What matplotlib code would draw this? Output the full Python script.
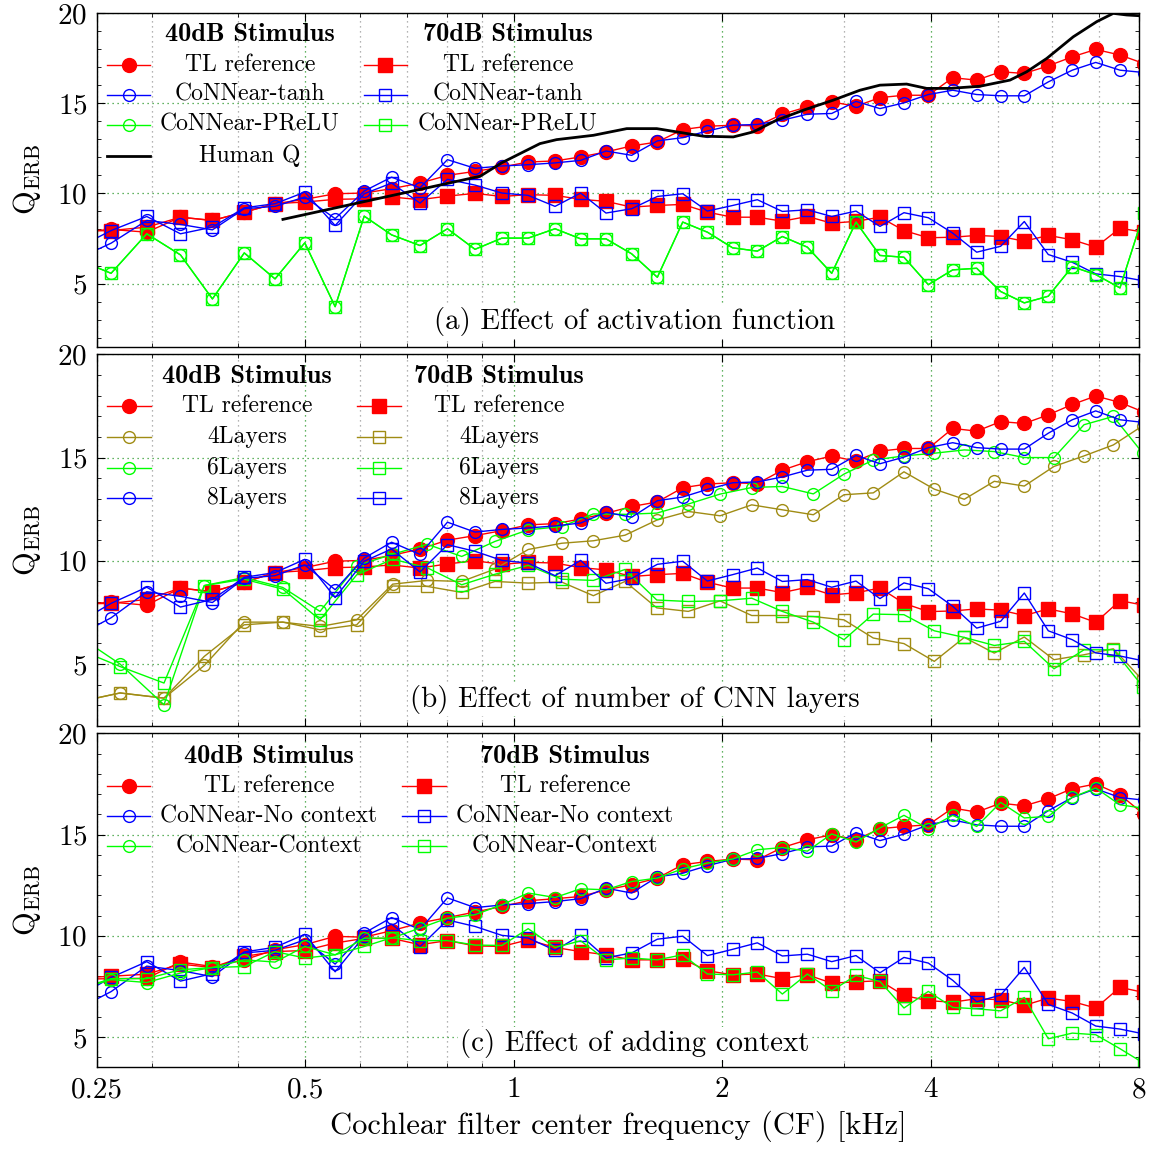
import matplotlib
matplotlib.use("Agg")
import matplotlib.pyplot as plt
from matplotlib.ticker import FixedLocator, FixedFormatter, NullFormatter, MultipleLocator

plt.rcParams['font.family'] = 'serif'
plt.rcParams['font.serif'] = ['cmr10']
plt.rcParams['mathtext.fontset'] = 'cm'
plt.rcParams['axes.formatter.use_mathtext'] = True

# ---------------- data ----------------
# CF grid (kHz) of the TL reference / CoNNear runs (first and last sit outside the axis)
cf = [0.232, 0.262, 0.295, 0.330, 0.367, 0.408, 0.452, 0.499, 0.552, 0.608,
      0.666, 0.732, 0.802, 0.879, 0.961, 1.049, 1.147, 1.249, 1.359, 1.480,
      1.612, 1.754, 1.904, 2.071, 2.248, 2.443, 2.655, 2.879, 3.121, 3.380,
      3.661, 3.970, 4.305, 4.663, 5.050, 5.463, 5.917, 6.408, 6.928, 7.510, 8.13]

tl_40 = [7.85, 8.0, 7.85, 8.68, 8.5, 8.96, 9.43, 9.67, 9.98, 10.02,
         10.26, 10.57, 11.0, 11.22, 11.46, 11.74, 11.8, 12.02, 12.3, 12.63,
         12.85, 13.54, 13.72, 13.78, 13.74, 14.39, 14.8, 15.07, 14.83, 15.31,
         15.44, 15.44, 16.41, 16.28, 16.74, 16.65, 17.07, 17.57, 17.98, 17.67, 17.2]
tl_70 = [7.9, 7.94, 8.13, 8.68, 8.5, 8.96, 9.43, 9.52, 9.67, 9.7,
         9.8, 9.65, 9.85, 10.0, 9.83, 9.93, 9.89, 9.67, 9.56, 9.24,
         9.33, 9.39, 8.96, 8.68, 8.68, 8.46, 8.72, 8.35, 8.45, 8.68,
         7.94, 7.54, 7.57, 7.67, 7.61, 7.35, 7.67, 7.43, 7.02, 8.07, 7.85]

# CoNNear with tanh (= 8 layers, no context)
tanh_40 = [6.3, 7.24, 8.5, 8.28, 7.98, 9.15, 9.28, 9.8, 8.6, 10.13,
           10.9, 10.31, 11.87, 11.39, 11.52, 11.59, 11.69, 11.83, 12.35, 12.11,
           12.91, 13.09, 13.46, 13.78, 13.82, 14.06, 14.39, 14.43, 15.1, 14.7,
           15.02, 15.48, 15.72, 15.48, 15.41, 15.41, 16.18, 16.83, 17.26, 16.83, 16.7]
tanh_70 = [6.9, 7.94, 8.72, 7.76, 8.13, 9.2, 9.43, 10.07, 8.22, 9.98,
           10.57, 9.46, 10.78, 10.46, 10.02, 9.89, 9.28, 10.02, 8.91, 9.15,
           9.83, 9.98, 9.02, 9.33, 9.65, 9.0, 9.09, 8.72, 9.02, 8.17,
           8.93, 8.65, 7.8, 6.74, 7.07, 8.44, 6.61, 6.18, 5.54, 5.39, 5.15]

prelu_40 = [6.4, 5.57, 7.76, 6.59, 4.15, 6.7, 5.26, 7.26, 3.72, 8.74,
            7.7, 7.11, 8.04, 6.9, 7.52, 7.52, 8.04, 7.48, 7.48, 6.65,
            5.35, 8.41, 7.85, 6.98, 6.8, 7.61, 7.02, 5.57, 8.41, 6.56,
            6.46, 4.94, 5.76, 5.85, 4.56, 3.93, 4.3, 5.94, 5.5, 4.76, 8.9]
prelu_70 = list(prelu_40)

# human Q_ERB curve
hq_cf = [0.464, 0.894, 0.961, 1.091, 1.153, 1.303, 1.456, 1.609, 1.777, 1.878,
         2.075, 2.218, 2.397, 2.619, 2.894, 3.163, 3.380, 3.694, 3.948, 4.266,
         4.714, 5.209, 5.506, 5.886, 6.429, 6.951, 7.345, 7.680, 8.0]
hq = [8.56, 10.95, 11.7, 12.76, 12.98, 13.22, 13.59, 13.59, 13.32, 13.17,
      13.13, 13.41, 14.06, 14.61, 15.17, 15.72, 16.0, 16.06, 15.82, 15.82,
      15.94, 16.28, 16.74, 17.48, 18.68, 19.52, 19.98, 19.89, 19.85]

# coarser CF grid of the 4- and 6-layer models
cf_l = [0.2316, 0.2699, 0.3124, 0.3572, 0.4077, 0.4637, 0.5249, 0.5930, 0.6685, 0.7499,
        0.8409, 0.9394, 1.0494, 1.1727, 1.303, 1.4477, 1.609, 1.7868, 1.9857, 2.2064,
        2.4425, 2.7078, 2.9993, 3.3057, 3.6612, 4.0495, 4.4745, 4.944, 5.4625, 6.030,
        6.663, 7.345, 8.107]
l4_40 = [3.12, 3.6, 3.35, 4.93, 7.03, 7.03, 6.82, 7.14, 8.87, 9.05,
         9.0, 9.6, 10.55, 10.85, 10.97, 11.24, 11.97, 12.39, 12.18, 12.71,
         12.47, 12.23, 13.2, 13.29, 14.31, 13.47, 12.98, 13.85, 13.62, 14.57,
         15.08, 15.61, 16.55]
l4_70 = [3.12, 3.6, 3.35, 5.37, 6.9, 7.03, 6.66, 6.9, 8.78, 8.76,
         8.47, 9.0, 8.92, 8.97, 8.31, 9.0, 7.72, 7.55, 8.06, 7.35,
         7.35, 7.3, 7.14, 6.26, 5.99, 5.13, 6.29, 5.53, 6.31, 5.21,
         5.45, 5.74, 4.2]
l6_40 = [6.5, 5.0, 3.03, 8.8, 9.19, 8.71, 7.55, 9.76, 10.32, 10.8,
         10.21, 10.94, 11.5, 11.66, 12.27, 12.25, 12.31, 12.75, 13.23, 13.55,
         13.6, 13.24, 14.2, 14.88, 15.08, 15.21, 15.37, 15.29, 15.0, 15.0,
         16.59, 16.99, 15.2]
l6_70 = [5.8, 4.88, 4.08, 8.8, 9.11, 8.63, 7.14, 9.32, 10.08, 9.66,
         8.84, 9.35, 9.78, 9.11, 9.05, 9.58, 8.1, 8.03, 8.06, 8.19,
         7.55, 7.03, 6.18, 7.42, 7.39, 6.61, 6.29, 5.9, 6.1, 4.77,
         5.69, 5.69, 3.9]

# context experiment (own TL reference run)
tlc_40 = [7.85, 7.88, 7.9, 8.7, 8.48, 8.81, 9.31, 9.56, 9.97, 9.93,
          10.25, 10.63, 10.9, 11.17, 11.45, 11.73, 11.83, 11.94, 12.27, 12.52,
          12.85, 13.51, 13.67, 13.79, 13.75, 14.36, 14.74, 14.99, 14.74, 15.29,
          15.4, 15.48, 16.31, 16.11, 16.55, 16.42, 16.77, 17.27, 17.5, 16.97, 16.0]
tlc_70 = [7.9, 8.0, 8.1, 8.6, 8.43, 8.98, 9.22, 9.27, 9.64, 9.87,
          9.87, 9.56, 9.76, 9.5, 9.47, 9.8, 9.42, 9.22, 9.06, 8.81,
          8.81, 8.85, 8.27, 8.07, 8.11, 7.88, 8.07, 7.66, 7.72, 7.78,
          7.05, 6.79, 6.72, 6.89, 6.84, 6.56, 6.92, 6.75, 6.43, 7.45, 7.2]
ctx_40 = [7.3, 7.83, 7.69, 8.16, 8.43, 8.81, 8.7, 9.47, 9.06, 9.88,
          9.88, 10.38, 10.87, 11.04, 11.53, 12.11, 11.89, 12.32, 12.27, 12.68,
          12.85, 13.31, 13.59, 13.79, 14.25, 14.36, 14.18, 15.03, 14.63, 15.33,
          15.95, 15.29, 15.95, 15.4, 16.59, 15.82, 15.9, 16.84, 17.3, 16.47, 16.3]
ctx_70 = [7.3, 7.88, 7.88, 8.32, 8.43, 8.48, 9.22, 8.9, 9.06, 9.47,
          9.9, 9.76, 9.76, 9.54, 9.52, 10.35, 9.42, 9.75, 8.81, 8.9,
          8.81, 9.06, 8.11, 8.07, 8.21, 7.12, 8.11, 7.28, 8.04, 7.74,
          6.43, 7.25, 6.46, 6.39, 6.29, 6.95, 4.91, 5.19, 5.11, 4.42, 3.7]

xticks = [0.25, 0.5, 1, 2, 4, 8]
xtick_labels = ['0.25', '0.5', '1', '2', '4', '8']
xminor = [0.3, 0.4, 0.6, 0.7, 0.8, 0.9, 3, 5, 6, 7]
yticks = [5, 10, 15, 20]
# ---------------------------------------

RED, BLUE, GREEN, OLIVE = '#ff0000', '#0000ff', '#00ff00', '#a08c14'


def mstyle(color, marker, filled):
    if marker == 'o':
        ms = 10 if filled else 8.5
    else:
        ms = 9.5 if filled else 8
    return dict(color=color, marker=marker, ms=ms, mec=color, mew=1.0,
                mfc=color if filled else 'none')


def curve(ax, x, y, color, marker, filled):
    ax.plot(x, y, lw=1.0, **mstyle(color, marker, filled))


def setup(ax, ylo, bottom):
    ax.set_xscale('log')
    ax.set_xlim(0.25, 8)
    ax.set_ylim(ylo, 20)
    ax.xaxis.set_major_locator(FixedLocator(xticks))
    ax.xaxis.set_minor_locator(FixedLocator(xminor))
    ax.xaxis.set_minor_formatter(NullFormatter())
    if bottom:
        ax.xaxis.set_major_formatter(FixedFormatter(xtick_labels))
    else:
        ax.xaxis.set_major_formatter(NullFormatter())
    ax.yaxis.set_major_locator(FixedLocator(yticks))
    ax.yaxis.set_minor_locator(MultipleLocator(1))
    ax.tick_params(which='both', direction='in', top=True, right=True)
    ax.tick_params(which='major', length=6, labelsize=21, pad=7)
    ax.tick_params(which='minor', length=3)
    ax.grid(which='major', color='#2e9a2e', ls=(0, (1, 3)), lw=0.9)
    ax.grid(which='minor', axis='x', color='#9a9a9a', ls=(0, (1, 3)), lw=0.9)
    ax.set_axisbelow(True)
    for s in ax.spines.values():
        s.set_linewidth(1.0)
    ax.set_ylabel(r'$\mathrm{Q}_{\mathrm{ERB}}$', fontsize=22)
    ax.yaxis.set_label_coords(-0.052, 0.5)


def key_block(ax, cols, header_y, rows_y):
    # cols: list of (x0, x1, text_x, header, entries)
    for x0, x1, tx, header, entries in cols:
        ax.text(tx, header_y, header, transform=ax.transAxes, ha='center', va='center',
                fontsize=19, fontfamily='cmb10')
        for y, (label, color, marker, filled) in zip(rows_y, entries):
            if marker is None:
                ax.plot([x0, x1], [y, y], transform=ax.transAxes, color=color, lw=2.0,
                        clip_on=False)
            else:
                ax.plot([x0, x1], [y, y], transform=ax.transAxes, color=color, lw=1.0,
                        clip_on=False)
                ax.plot([(x0 + x1) / 2], [y], transform=ax.transAxes, clip_on=False,
                        **mstyle(color, marker, filled))
            ax.text(tx, y, label, transform=ax.transAxes, ha='center', va='center',
                    fontsize=17)


def caption(ax, text, y):
    ax.text(0.516, y, text, transform=ax.transAxes, ha='center', va='center',
            fontsize=20.8, zorder=5,
            bbox=dict(facecolor='white', edgecolor='none', pad=1.5))


fig = plt.figure(figsize=(11.52, 11.5), dpi=100)
ax_a = fig.add_axes([0.0842, 0.6985, 0.9045, 0.2902])
ax_b = fig.add_axes([0.0842, 0.3687, 0.9045, 0.3232])
ax_c = fig.add_axes([0.0842, 0.0719, 0.9045, 0.2904])

# (a) activation function
setup(ax_a, 1.5, False)
curve(ax_a, cf, tl_40, RED, 'o', True)
curve(ax_a, cf, tl_70, RED, 's', True)
curve(ax_a, cf, tanh_40, BLUE, 'o', False)
curve(ax_a, cf, tanh_70, BLUE, 's', False)
curve(ax_a, cf, prelu_40, GREEN, 'o', False)
curve(ax_a, cf, prelu_70, GREEN, 's', False)
ax_a.plot(hq_cf, hq, color='black', lw=2.0)
key_block(ax_a, [
    (0.0096, 0.0509, 0.1468, '40dB Stimulus',
     [('TL reference', RED, 'o', True), ('CoNNear-tanh', BLUE, 'o', False),
      ('CoNNear-PReLU', GREEN, 'o', False), ('Human Q', 'black', None, False)]),
    (0.2562, 0.2975, 0.3944, '70dB Stimulus',
     [('TL reference', RED, 's', True), ('CoNNear-tanh', BLUE, 's', False),
      ('CoNNear-PReLU', GREEN, 's', False)]),
], 0.935, [0.844, 0.7545, 0.665, 0.572])
caption(ax_a, '(a) Effect of activation function', 0.075)

# (b) number of CNN layers
setup(ax_b, 2.0, False)
curve(ax_b, cf, tl_40, RED, 'o', True)
curve(ax_b, cf, tl_70, RED, 's', True)
curve(ax_b, cf_l, l4_40, OLIVE, 'o', False)
curve(ax_b, cf_l, l4_70, OLIVE, 's', False)
curve(ax_b, cf_l, l6_40, GREEN, 'o', False)
curve(ax_b, cf_l, l6_70, GREEN, 's', False)
curve(ax_b, cf, tanh_40, BLUE, 'o', False)
curve(ax_b, cf, tanh_70, BLUE, 's', False)
key_block(ax_b, [
    (0.0096, 0.0518, 0.1440, '40dB Stimulus',
     [('TL reference', RED, 'o', True), ('4Layers', OLIVE, 'o', False),
      ('6Layers', GREEN, 'o', False), ('8Layers', BLUE, 'o', False)]),
    (0.2495, 0.2917, 0.386, '70dB Stimulus',
     [('TL reference', RED, 's', True), ('4Layers', OLIVE, 's', False),
      ('6Layers', GREEN, 's', False), ('8Layers', BLUE, 's', False)]),
], 0.939, [0.8602, 0.7769, 0.6935, 0.6129])
caption(ax_b, '(b) Effect of number of CNN layers', 0.070)

# (c) context
setup(ax_c, 3.5, True)
curve(ax_c, cf, tlc_40, RED, 'o', True)
curve(ax_c, cf, tlc_70, RED, 's', True)
curve(ax_c, cf, tanh_40, BLUE, 'o', False)
curve(ax_c, cf, tanh_70, BLUE, 's', False)
curve(ax_c, cf, ctx_40, GREEN, 'o', False)
curve(ax_c, cf, ctx_70, GREEN, 's', False)
key_block(ax_c, [
    (0.0096, 0.0509, 0.165, '40dB Stimulus',
     [('TL reference', RED, 'o', True), ('CoNNear-No context', BLUE, 'o', False),
      ('CoNNear-Context', GREEN, 'o', False)]),
    (0.2927, 0.335, 0.449, '70dB Stimulus',
     [('TL reference', RED, 's', True), ('CoNNear-No context', BLUE, 's', False),
      ('CoNNear-Context', GREEN, 's', False)]),
], 0.932, [0.8413, 0.7515, 0.6617])
caption(ax_c, '(c) Effect of adding context', 0.072)
ax_c.set_xlabel('Cochlear filter center frequency (CF) [kHz]', fontsize=22, labelpad=5)

fig.savefig('out.png', dpi=100)
